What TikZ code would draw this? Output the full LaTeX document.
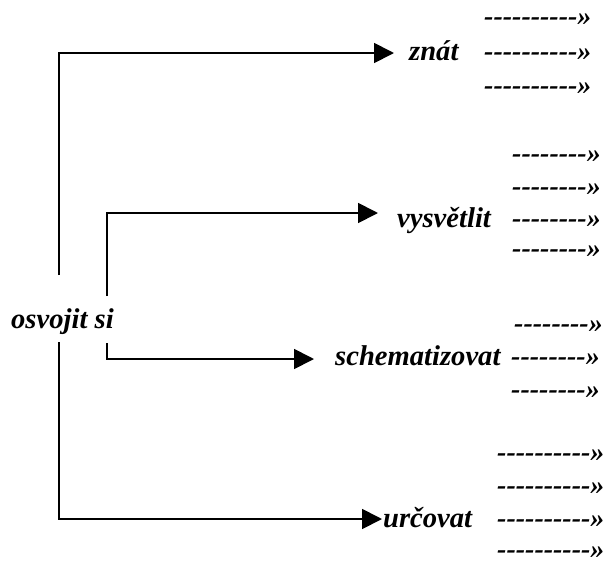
\documentclass[tikz,border=0pt]{standalone}
\usepackage{fontspec}
\setmainfont{Liberation Serif}
\usetikzlibrary{arrows.meta}
\newcommand\dashrow[1]{\foreach \i in {1,...,#1}{\hbox{-}}\hbox{»}}
\begin{document}
\begin{tikzpicture}[x=1pt,y=-1pt,
  lbl/.style={inner sep=0pt, anchor=base west, font=\fontsize{28.6}{31}\selectfont\bfseries\itshape},
  dsh/.style={inner sep=0pt, anchor=base west, font=\fontsize{28}{30}\selectfont\bfseries\itshape},
  conn/.style={line width=1.8pt},
  arr/.style={conn,-{Triangle[length=20pt,width=20pt]}}]
\useasboundingbox (0,0) rectangle (608,563);
% main labels
\node[lbl] (osv) at (11,328) {osvojit si};
\node[lbl] (znat) at (409,60) {znát};
\node[lbl] (vys) at (397,227) {vysvětlit};
\node[lbl] (sch) at (335,365) {schematizovat};
\node[lbl] (urc) at (383,527) {určovat};
% dashed rows
\node[dsh] (z1) at (484,25) {\dashrow{10}};
\node[dsh] (z2) at (484,60) {\dashrow{10}};
\node[dsh] (z3) at (484,94) {\dashrow{10}};
\node[dsh] (v1) at (512,162) {\dashrow{8}};
\node[dsh] (v2) at (512,195) {\dashrow{8}};
\node[dsh] (v3) at (512,227) {\dashrow{8}};
\node[dsh] (v4) at (512,257) {\dashrow{8}};
\node[dsh] (s1) at (514,332) {\dashrow{8}};
\node[dsh] (s2) at (511,365) {\dashrow{8}};
\node[dsh] (s3) at (511,398) {\dashrow{8}};
\node[dsh] (u1) at (497,461) {\dashrow{10}};
\node[dsh] (u2) at (497,494) {\dashrow{10}};
\node[dsh] (u3) at (497,527) {\dashrow{10}};
\node[dsh] (u4) at (497,558) {\dashrow{10}};
% connector ends
\coordinate (a1) at (59,275);
\coordinate (a2) at (59,342);
\coordinate (b1) at (107,296);
\coordinate (b2) at (107,343);
\coordinate (tz) at (394,53);
\coordinate (tv) at (378,213);
\coordinate (ts) at (314,359);
\coordinate (tu) at (382,519);
\draw[arr] (a1) |- (tz);
\draw[arr] (b1) |- (tv);
\draw[arr] (b2) |- (ts);
\draw[arr] (a2) |- (tu);
\end{tikzpicture}
\end{document}
